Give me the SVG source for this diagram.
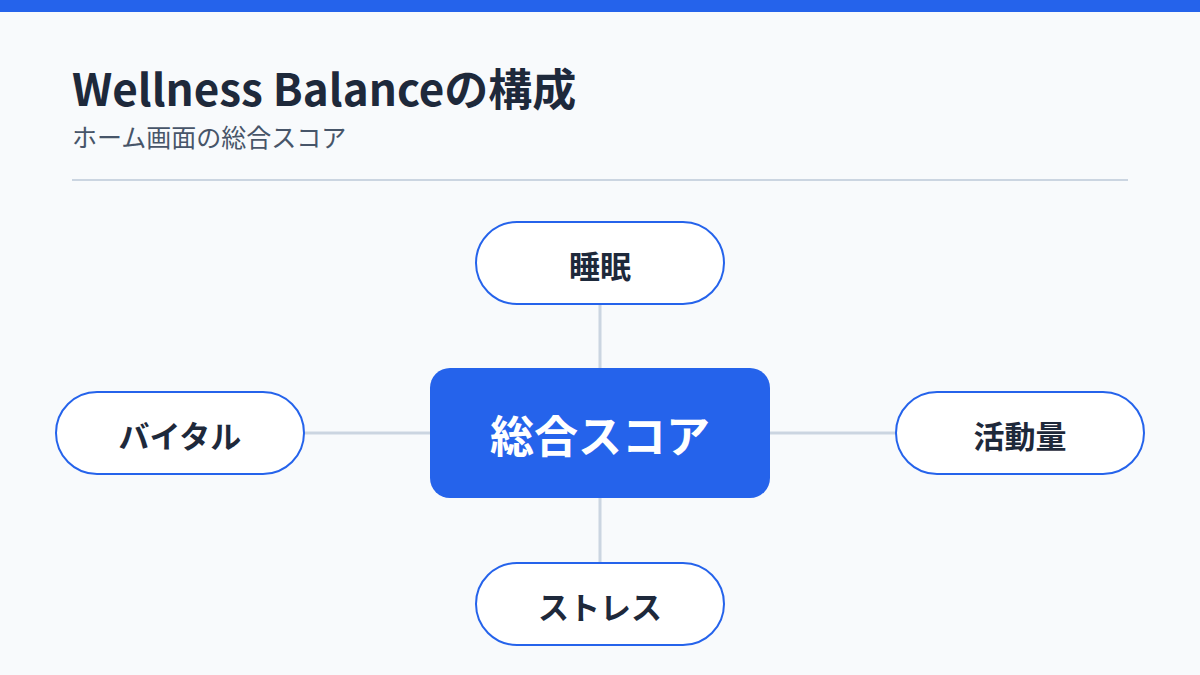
<svg xmlns="http://www.w3.org/2000/svg" width="1200" height="675" viewBox="0 0 1200 675">
<style>
.pill{fill:#FFFFFF;stroke:#2563EB;stroke-width:2}
.pt{font-family:"Noto Sans CJK JP","Noto Sans",sans-serif;font-weight:700;font-size:31px;fill:#1E293B;text-anchor:middle;dominant-baseline:central}
.conn{stroke:#CBD5E1;stroke-width:3;fill:none}
</style>
<rect x="0" y="0" width="1200" height="675" fill="#F8FAFC"/>
<rect x="0" y="0" width="1200" height="12" fill="#2563EB"/>
<text x="72" y="106" font-family="'Noto Sans CJK JP','Noto Sans',sans-serif" font-weight="700" font-size="44" fill="#1E293B">Wellness Balanceの構成</text>
<text x="72" y="147" font-family="'Noto Sans CJK JP','Noto Sans',sans-serif" font-size="25" fill="#475569">ホーム画面の総合スコア</text>
<line x1="72" y1="180" x2="1128" y2="180" stroke="#CBD5E1" stroke-width="2"/>
<g id="connectors">
<line class="conn" x1="600" y1="304" x2="600" y2="368"/>
<line class="conn" x1="600" y1="498" x2="600" y2="563"/>
<line class="conn" x1="304" y1="433" x2="430" y2="433"/>
<line class="conn" x1="770" y1="433" x2="896" y2="433"/>
</g>
<g id="center">
<rect x="430" y="368" width="340" height="130" rx="20" fill="#2563EB"/>
<text x="600" y="434" font-family="'Noto Sans CJK JP','Noto Sans',sans-serif" font-weight="700" font-size="44" fill="#FFFFFF" text-anchor="middle" dominant-baseline="central">総合スコア</text>
</g>
<g id="sleep">
<rect class="pill" x="476" y="222" width="248" height="82" rx="41"/>
<text class="pt" x="600" y="264">睡眠</text>
</g>
<g id="vital">
<rect class="pill" x="56" y="392" width="248" height="82" rx="41"/>
<text class="pt" x="180" y="434">バイタル</text>
</g>
<g id="activity">
<rect class="pill" x="896" y="392" width="248" height="82" rx="41"/>
<text class="pt" x="1020" y="434">活動量</text>
</g>
<g id="stress">
<rect class="pill" x="476" y="563" width="248" height="82" rx="41"/>
<text class="pt" x="600" y="605">ストレス</text>
</g>
</svg>
